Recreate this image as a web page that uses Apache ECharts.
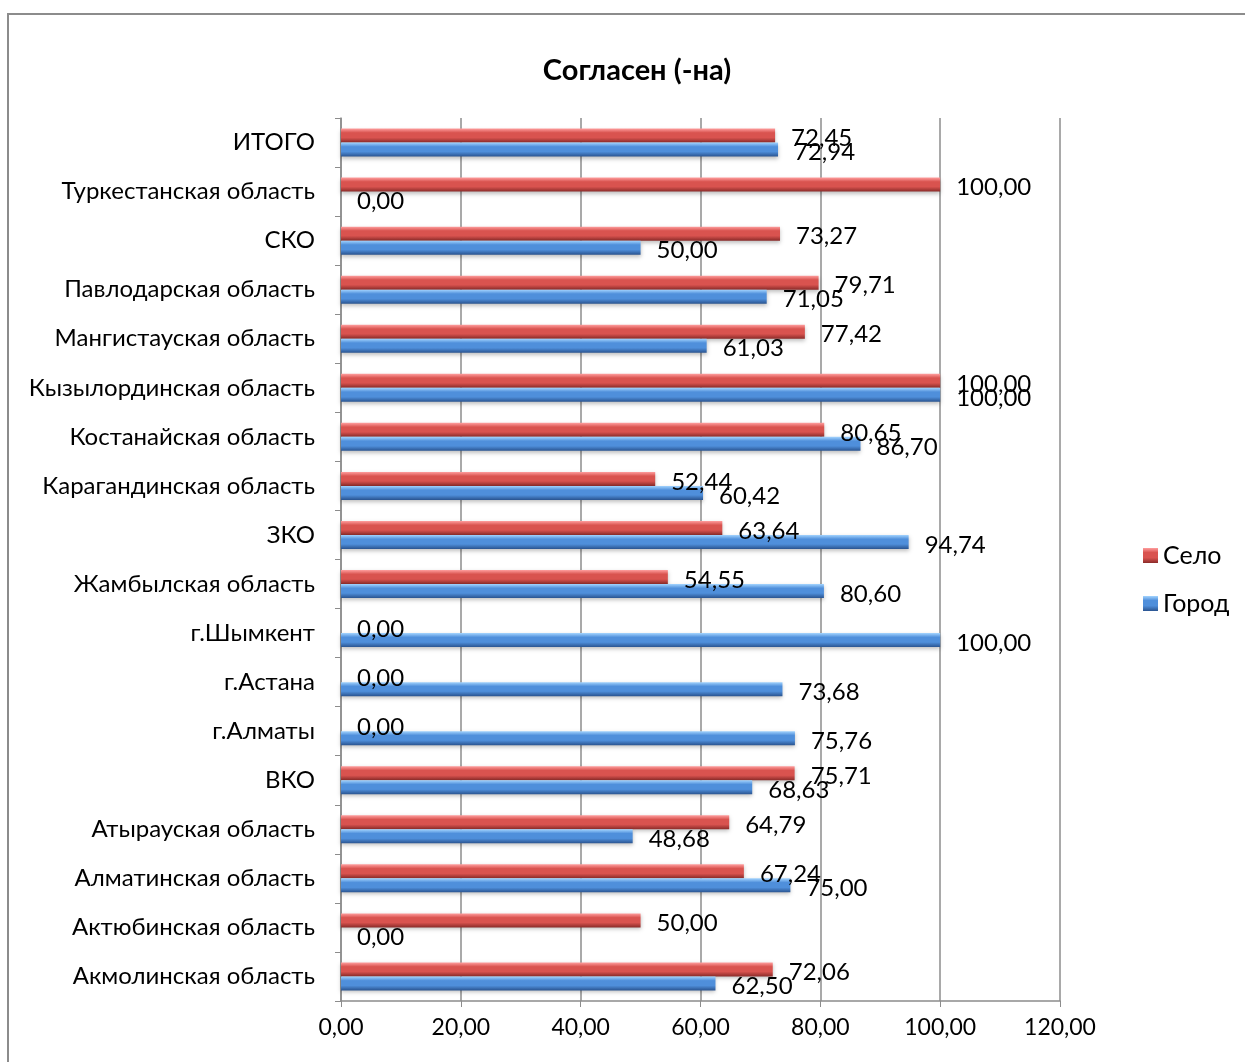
<!DOCTYPE html>
<html><head><meta charset="utf-8">
<script src="https://cdn.jsdelivr.net/npm/echarts@6/dist/echarts.min.js"></script>
<style>
html,body{margin:0;padding:0;background:#fff;}
#frame{position:absolute;left:7px;top:13px;width:1260px;height:1080px;border:2px solid #8c8c8c;box-sizing:border-box;}
#chart{position:absolute;left:0;top:0;width:1245px;height:1062px;}
</style></head>
<body>
<div id="frame"></div>
<div id="chart"></div>
<script>
const categories = ['Акмолинская область','Актюбинская область','Алматинская область','Атырауская область','ВКО','г.Алматы','г.Астана','г.Шымкент','Жамбылская область','ЗКО','Карагандинская область','Костанайская область','Кызылординская область','Мангистауская область','Павлодарская область','СКО','Туркестанская область','ИТОГО'];
const gorod = [62.50,0.00,75.00,48.68,68.63,75.76,73.68,100.00,80.60,94.74,60.42,86.70,100.00,61.03,71.05,50.00,0.00,72.94];
const selo  = [72.06,50.00,67.24,64.79,75.71,0.00,0.00,0.00,54.55,63.64,52.44,80.65,100.00,77.42,79.71,73.27,100.00,72.45];
const xTicks = {min:0, max:120, interval:20};
const titleText = 'Согласен (-на)';

const FONT = 'Lato';
const fmt = v => v.toFixed(2).replace('.', ',');
function grad(light, mid, dark){
  return new echarts.graphic.LinearGradient(0,0,0,1,[
    {offset:0,color:light},{offset:0.3,color:mid},{offset:0.65,color:mid},{offset:1,color:dark}]);
}
const chart = echarts.init(document.getElementById('chart'));
const labelCfg = {show:true, position:'right', distance:16, offset:[0,3], color:'#000', fontFamily:FONT, fontSize:24,
  formatter:p=>fmt(p.value)};
chart.setOption({
  animation:false,
  title:{text:titleText, left:632, top:51, textAlign:'center',
    textStyle:{fontFamily:FONT, fontWeight:'bold', fontSize:29, color:'#000'}},
  legend:{orient:'vertical', left:1138, top:538, itemGap:23, itemWidth:15, itemHeight:15,
    data:['Село','Город'], textStyle:{fontFamily:FONT, fontSize:25, color:'#000'}, icon:'rect'},
  grid:{left:341, right:185, top:118, bottom:61, containLabel:false},
  xAxis:{type:'value', min:xTicks.min, max:xTicks.max, interval:xTicks.interval,
    axisLine:{show:true, lineStyle:{color:'#8c8c8c', width:1.5}},
    axisTick:{show:true, length:6, lineStyle:{color:'#8c8c8c'}},
    splitLine:{show:true, lineStyle:{color:'#8c8c8c', width:1.5}},
    axisLabel:{formatter:v=>fmt(v), fontFamily:FONT, fontSize:23, color:'#000', margin:15}},
  yAxis:{type:'category', data:categories,
    axisLine:{show:true, lineStyle:{color:'#8c8c8c', width:1.5}},
    axisTick:{show:true, length:6, lineStyle:{color:'#8c8c8c'}},
    axisLabel:{fontFamily:FONT, fontSize:24, color:'#000', margin:26}},
  series:[
    {name:'Село', type:'bar', data:selo, barWidth:14, barGap:'0%',
      itemStyle:{color:grad('#ff9e9e','#d9534f','#8a2b29'), shadowColor:'rgba(0,0,0,0.25)', shadowBlur:4, shadowOffsetY:2},
      label:labelCfg},
    {name:'Город', type:'bar', data:gorod, barWidth:14, barGap:'0%',
      itemStyle:{color:grad('#a3d4ff','#4f8fdb','#2a5490'), shadowColor:'rgba(0,0,0,0.25)', shadowBlur:4, shadowOffsetY:2},
      label:labelCfg}
  ]
});
</script>
</body></html>
